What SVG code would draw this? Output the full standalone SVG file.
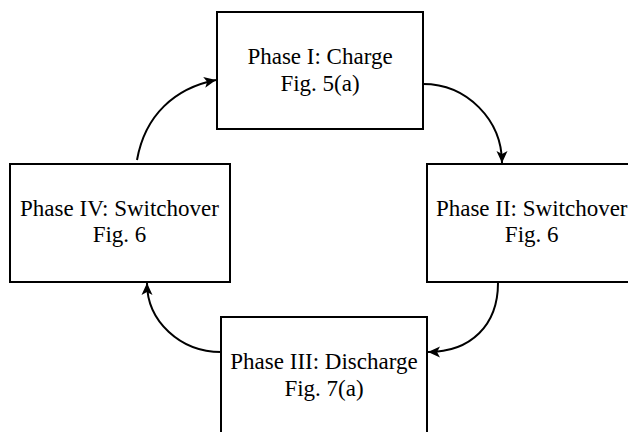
<svg xmlns="http://www.w3.org/2000/svg" width="628" height="432" viewBox="0 0 628 432">
  <style>
    .box { fill: #ffffff; stroke: #000000; stroke-width: 2; }
    .lbl { font-family: "Liberation Serif", "Times New Roman", serif; font-size: 23px; fill: #000000; text-anchor: middle; }
    .conn { fill: none; stroke: #000000; stroke-width: 2; marker-end: url(#arrow); }
  </style>
  <defs>
    <marker id="arrow" markerUnits="userSpaceOnUse" markerWidth="13" markerHeight="11" refX="12" refY="5.5" orient="auto" overflow="visible">
      <path d="M0,0 L12,5.5 L0,11 L3,5.5 z" fill="#000000"/>
    </marker>
  </defs>
  <rect x="0" y="0" width="628" height="432" fill="#ffffff"/>
  <g id="phase1">
    <rect class="box" x="217" y="12" width="206" height="117"/>
    <text class="lbl" x="320" y="64">Phase I: Charge</text>
    <text class="lbl" x="320" y="90.7">Fig. 5(a)</text>
  </g>
  <g id="phase2">
    <rect class="box" x="427" y="164" width="209" height="118"/>
    <text class="lbl" x="531.7" y="215.7">Phase II: Switchover</text>
    <text class="lbl" x="531.7" y="242.3">Fig. 6</text>
  </g>
  <g id="phase3">
    <rect class="box" x="221" y="317" width="206" height="118"/>
    <text class="lbl" x="324" y="369.3">Phase III: Discharge</text>
    <text class="lbl" x="324" y="396">Fig. 7(a)</text>
  </g>
  <g id="phase4">
    <rect class="box" x="10" y="164" width="220" height="118"/>
    <text class="lbl" x="119.5" y="215.7">Phase IV: Switchover</text>
    <text class="lbl" x="119.5" y="242.3">Fig. 6</text>
  </g>
  <g id="connectors">
    <path class="conn" d="M137,160 C145,115 175,88 216,80"/>
    <path class="conn" d="M423,84 C467,84 502,120 502,163"/>
    <path class="conn" d="M498,283 C498,325 471,352 428,352"/>
    <path class="conn" d="M221,352 C180,352 147,321 147,283"/>
  </g>
</svg>
